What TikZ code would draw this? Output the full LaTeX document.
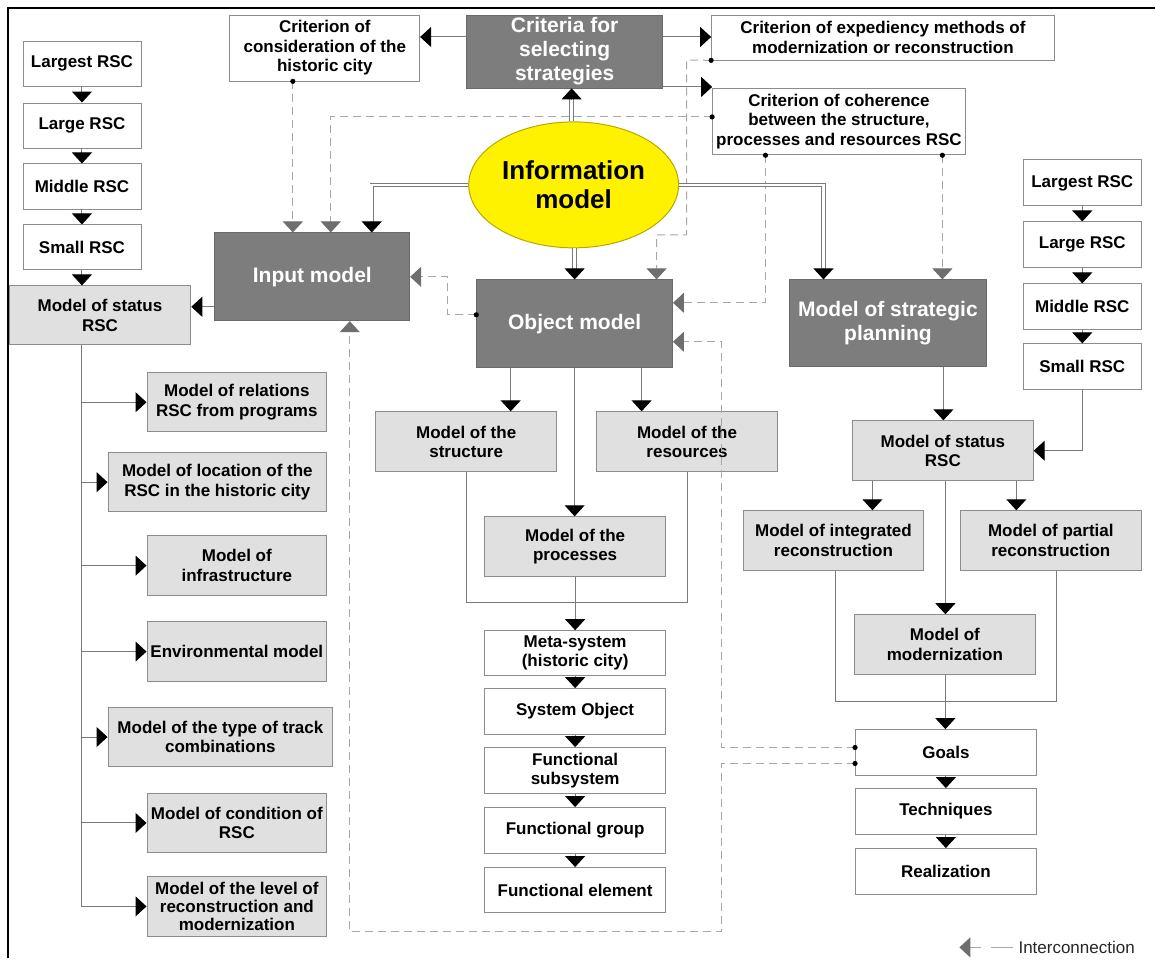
\documentclass[tikz,border=0pt]{standalone}
\usepackage{fontspec}
\setmainfont{Liberation Sans}
\usetikzlibrary{arrows.meta,shapes.geometric,calc}
\definecolor{linegray}{HTML}{7A7A7A}
\definecolor{bordgray}{HTML}{8C8C8C}
\definecolor{lgray}{HTML}{E0E0E0}
\definecolor{dgray}{HTML}{7D7D7D}
\definecolor{dashgray}{HTML}{A8A8A8}
\definecolor{tipgray}{HTML}{6E6E6E}
\definecolor{ellbord}{HTML}{B8A800}
\begin{document}
\begin{tikzpicture}[x=1pt,y=-1pt,
  box/.style={draw=bordgray, line width=0.8pt, fill=white, align=center, inner sep=0pt, font=\fontsize{17}{19.5}\selectfont\bfseries},
  gbox/.style={box, fill=lgray},
  dbox/.style={draw=dgray!85!black, line width=0.8pt, fill=dgray, text=white, align=center, inner sep=0pt, font=\fontsize{21}{24}\selectfont\bfseries},
  sz/.style n args={2}{minimum width=#1pt, minimum height=#2pt},
  ln/.style={draw=linegray, line width=1pt},
  arr/.style={ln, -{Triangle[width=20pt,length=11pt,color=black,fill=black]}},
  dsh/.style={draw=dashgray, line width=1pt, dash pattern=on 8pt off 5pt},
  garr/.style={dsh, -{Triangle[width=20pt,length=11pt,color=tipgray,fill=tipgray]}},
  dbl/.style={draw=linegray, line width=0.9pt, double=white, double distance=2.6pt, shorten >=10pt}
]
\fill[white] (0,0) rectangle (1156,959);
\draw[line width=1.5pt] (8,959) -- (8,8) -- (1156,8);

% left column
\node[box, sz={118}{45}] (L1) at (82,63.5) {Largest RSC};
\node[box, sz={118}{45}] (L2) at (82,125.5) {Large RSC};
\node[box, sz={118}{46}] (L3) at (82,187) {Middle RSC};
\node[box, sz={118}{45}] (L4) at (82,247.5) {Small RSC};
\node[gbox, sz={182}{59}] (LS) at (100,315.5) {Model of status\\RSC};
\node[gbox, sz={180}{59}] (A1) at (237,402.5) {Model of relations\\RSC from programs};
\node[gbox, sz={219}{59}] (A2) at (217.5,482.5) {Model of location of the\\RSC in the historic city};
\node[gbox, sz={180}{60}] (A3) at (237,566) {Model of\\infrastructure};
\node[gbox, sz={180}{60}] (A4) at (237,652) {Environmental model};
\node[gbox, sz={225}{59}] (A5) at (220.5,737.5) {Model of the type of track\\combinations};
\node[gbox, sz={180}{59}] (A6) at (237,823.5) {Model of condition of\\RSC};
\node[gbox, sz={180}{60}, font=\fontsize{17}{18}\selectfont\bfseries] (A7) at (237,907) {Model of the level of\\reconstruction and\\modernization};

% top
\node[dbox, sz={195}{88}] (IN) at (312.5,277) {Input model};
\node[box, sz={190}{66}] (C1) at (325,48) {Criterion of\\consideration of the\\historic city};
\node[dbox, sz={196}{73}] (CR) at (565,51.5) {Criteria for\\selecting\\strategies};
\node[box, sz={343}{45}] (C2) at (883.5,37.5) {Criterion of expediency methods of\\modernization or reconstruction};
\node[box, sz={253}{67}] (C3) at (839.5,121.5) {Criterion of coherence\\between the structure,\\processes and resources RSC};
\node[ellipse, draw=ellbord, line width=1pt, fill=yellow, minimum width=210pt, minimum height=126pt, inner sep=0pt, align=center, font=\fontsize{26}{29}\selectfont\bfseries] (IM) at (574,185) {Information\\model};
\node[dbox, sz={196}{88}] (OM) at (575,324) {Object model};
\node[dbox, sz={197}{87}] (SP) at (888.5,323.5) {Model of strategic\\planning};

% right column
\node[box, sz={118}{46}] (R1) at (1083,183) {Largest RSC};
\node[box, sz={118}{46}] (R2) at (1083,245) {Large RSC};
\node[box, sz={118}{46}] (R3) at (1083,307) {Middle RSC};
\node[box, sz={118}{46}] (R4) at (1083,367) {Small RSC};
\node[gbox, sz={181}{60}] (RS) at (943.5,451) {Model of status\\RSC};
\node[gbox, sz={180}{60}] (INT) at (834,541) {Model of integrated\\reconstruction};
\node[gbox, sz={181}{60}] (PAR) at (1051.5,541) {Model of partial\\reconstruction};
\node[gbox, sz={181}{60}] (MOD) at (945.5,645) {Model of\\modernization};
\node[box, sz={181}{46}] (GOA) at (946.5,753) {Goals};
\node[box, sz={181}{46}] (TEC) at (946.5,812) {Techniques};
\node[box, sz={181}{46}] (REA) at (946.5,872) {Realization};

% center column
\node[gbox, sz={181}{60}] (STR) at (466.5,442) {Model of the\\structure};
\node[gbox, sz={181}{60}] (RES) at (687.5,442) {Model of the\\resources};
\node[gbox, sz={181}{60}] (PRO) at (575.5,547) {Model of the\\processes};
\node[box, sz={181}{45}] (MS) at (575.5,653.5) {Meta-system\\(historic city)};
\node[box, sz={181}{46}] (SO) at (575.5,712) {System Object};
\node[box, sz={181}{46}] (FS) at (575.5,771) {Functional\\subsystem};
\node[box, sz={181}{46}] (FG) at (575.5,831) {Functional group};
\node[box, sz={181}{45}] (FE) at (575.5,890.5) {Functional element};

% dashed interconnections
\coordinate (p1) at (C1.south -| 293,0);
\draw[garr] (p1) -- (IN.north -| p1);
\coordinate (p2) at (C3.west |- 0,117);
\draw[garr] (p2) -| (IN.north -| 331,0);
\coordinate (p3) at (C2.south west);
\draw[garr] (p3) -- (687,60) -- (687,235) -| (OM.north -| 657,0);
\coordinate (p4) at (C3.south -| 766,0);
\draw[garr] (p4) |- (OM.east |- 0,303);
\coordinate (p5) at (C3.south -| 943,0);
\draw[garr] (p5) -- (SP.north -| p5);
\coordinate (p6) at (OM.west |- 0,315);
\draw[garr] (p6) -- (448,315) |- (IN.east |- 0,277);
\coordinate (p7) at (GOA.west |- 0,748);
\draw[garr] (p7) -| (722,342) -- (OM.east |- 0,342);
\coordinate (p8) at (GOA.west |- 0,764);
\draw[garr] (p8) -| (722,932) -| (IN.south -| 350,0);
\foreach \p in {p1,p2,p3,p4,p5,p6,p7,p8} \fill (\p) circle (2.6pt);

% solid connectors
\draw[arr] (L1) -- (L2);
\draw[arr] (L2) -- (L3);
\draw[arr] (L3) -- (L4);
\draw[arr] (L4) -- (L4 |- LS.north);
\draw[arr] (IN.west |- 0,307) -- (LS.east |- 0,307);
\draw[arr] (CR.west |- 0,37) -- (C1.east |- 0,37);
\draw[arr] (CR.east |- 0,37) -- (C2.west |- 0,37);
\draw[arr] (CR.east |- 0,87) -- (C3.west |- 0,87);
\draw[ln] (LS.south -| 82,0) -- (82,908);
\foreach \n in {A1,A2,A3,A4,A5,A6,A7} \draw[arr] (82,0 |- \n.west) -- (\n.west);

\draw[arr] (OM.south -| 511,0) -- (STR.north -| 511,0);
\draw[arr] (OM.south -| 642,0) -- (RES.north -| 642,0);
\draw[arr] (OM.south -| 575,0) -- (PRO.north -| 575,0);
\draw[ln] (STR.south) |- (RES.south |- 0,603) -- (RES.south);
\draw[arr] (PRO.south) -- (MS.north);
\draw[arr] (MS) -- (SO);
\draw[arr] (SO) -- (FS);
\draw[arr] (FS) -- (FG);
\draw[arr] (FG) -- (FE);

\draw[arr] (SP.south -| 944,0) -- (RS.north -| 944,0);
\draw[arr] (R1) -- (R2);
\draw[arr] (R2) -- (R3);
\draw[arr] (R3) -- (R4);
\draw[arr] (R4.south) |- (RS.east);
\draw[arr] (RS.south -| 873,0) -- (INT.north -| 873,0);
\draw[arr] (RS.south -| 1017,0) -- (PAR.north -| 1017,0);
\draw[arr] (RS.south -| 946,0) -- (MOD.north -| 946,0);
\draw[ln] (INT.south -| 836,0) |- (1057,702) -- (PAR.south -| 1057,0);
\draw[arr] (MOD.south -| 946,0) -- (GOA.north -| 946,0);
\draw[arr] (GOA) -- (TEC);
\draw[arr] (TEC) -- (REA);

% double connectors from the information model
\coordinate (u0) at (IM.north -| 572,0);
\coordinate (t1) at (CR.south -| u0);
\draw[dbl] (u0) -- (t1);
\draw[arr] ([yshift=-11pt]t1) -- (t1);
\coordinate (t2) at (OM.north -| 575,0);
\draw[dbl] (IM.south -| t2) -- (t2);
\draw[arr] ([yshift=11pt]t2) -- (t2);
\coordinate (t3) at (IN.north -| 372,0);
\draw[dbl] (IM.west) -| (t3);
\draw[arr] ([yshift=11pt]t3) -- (t3);
\coordinate (t4) at (SP.north -| 824,0);
\draw[dbl] (IM.east) -| (t4);
\draw[arr] ([yshift=11pt]t4) -- (t4);

% legend
\node[anchor=west, inner sep=0pt, text=black!85, font=\fontsize{17}{20}\selectfont] (LEG) at (1019,948) {Interconnection};
\coordinate (lg) at (960,948);
\draw[garr, dash pattern=on 22pt off 10pt] ([xshift=-5pt]LEG.west) -- (lg);
\end{tikzpicture}
\end{document}
